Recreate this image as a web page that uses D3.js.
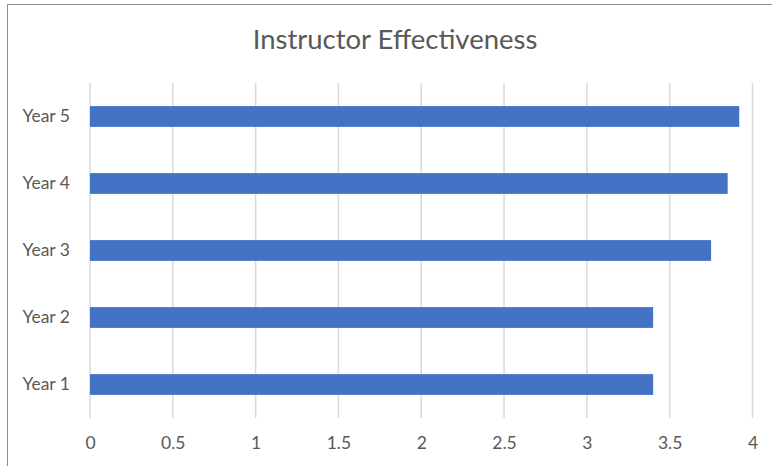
<!DOCTYPE html>
<html>
<head>
<meta charset="utf-8">
<script src="https://cdn.jsdelivr.net/npm/d3@7"></script>
<style>
body { margin: 0; background: #fff; }
text { font-family: Lato, "Open Sans", sans-serif; fill: #595959; }
</style>
</head>
<body>
<script>
var categories = ["Year 1", "Year 2", "Year 3", "Year 4", "Year 5"];
var values = [3.4, 3.4, 3.75, 3.85, 3.92];
var xTicks = [0, 0.5, 1, 1.5, 2, 2.5, 3, 3.5, 4];
var title = "Instructor Effectiveness";

var W = 772, H = 466;
var margin = {top: 83, left: 90, right: 19.5, bottom: 48};

var svg = d3.select("body").append("svg")
    .attr("width", W)
    .attr("height", H);

// chart frame (only top and left edges are visible)
svg.append("path")
    .attr("d", "M7.5," + H + "V4.5H" + W)
    .attr("fill", "none")
    .attr("stroke", "#8c8c8c")
    .attr("stroke-width", 1);

svg.append("text")
    .attr("x", 395)
    .attr("y", 49)
    .attr("text-anchor", "middle")
    .style("font-size", "27.5px")
    .text(title);

var x = d3.scaleLinear()
    .domain([0, 4])
    .range([margin.left, W - margin.right]);

var y = d3.scaleBand()
    .domain(categories.slice().reverse())
    .range([margin.top, H - margin.bottom])
    .paddingInner(0.69)
    .paddingOuter(0.345);

// gridlines
svg.append("g")
    .selectAll("line")
    .data(xTicks)
    .enter().append("line")
    .attr("x1", function(d) { return x(d); })
    .attr("x2", function(d) { return x(d); })
    .attr("y1", margin.top)
    .attr("y2", H - margin.bottom)
    .attr("stroke", "#d9d9d9")
    .attr("stroke-width", 1.5);

var xAxis = d3.axisBottom(x)
    .tickValues(xTicks)
    .tickFormat(function(d) { return String(d); })
    .tickSize(0)
    .tickPadding(19);

var gx = svg.append("g")
    .attr("transform", "translate(0," + (H - margin.bottom) + ")")
    .call(xAxis);
gx.select(".domain").remove();
gx.selectAll("text").style("font-size", "17.5px");

svg.append("g")
    .selectAll("rect")
    .data(values)
    .enter().append("rect")
    .attr("x", x(0))
    .attr("y", function(d, i) { return y(categories[i]); })
    .attr("width", function(d) { return x(d) - x(0); })
    .attr("height", y.bandwidth())
    .attr("fill", "#4472c4");

var yAxis = d3.axisLeft(y)
    .tickSize(0)
    .tickPadding(20);

var gy = svg.append("g")
    .attr("transform", "translate(" + margin.left + ",0)")
    .call(yAxis);
gy.select(".domain").remove();
gy.selectAll("text").style("font-size", "17.5px");
</script>
</body>
</html>
